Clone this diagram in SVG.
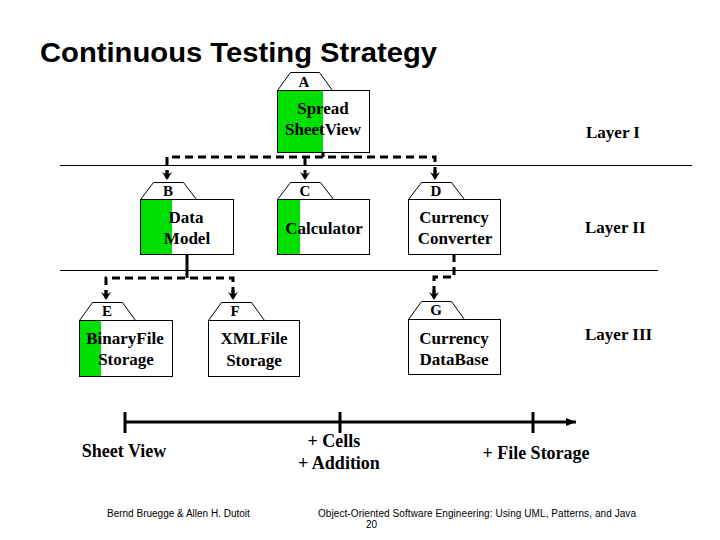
<svg xmlns="http://www.w3.org/2000/svg" width="720" height="540" viewBox="0 0 720 540">
<defs>
<style>
.box{fill:#fff;stroke:#000;stroke-width:1}
.tab{fill:#fff;stroke:#000;stroke-width:1}
.green{fill:#00e000}
.t{font-family:"Liberation Serif","Times New Roman",serif;font-weight:bold;font-size:17px;text-anchor:middle;fill:#000}
.lbl{font-family:"Liberation Serif","Times New Roman",serif;font-weight:bold;font-size:15px;text-anchor:middle;fill:#000}
.layer{font-family:"Liberation Serif","Times New Roman",serif;font-weight:bold;font-size:17px;fill:#000}
.tl{font-family:"Liberation Serif","Times New Roman",serif;font-weight:bold;font-size:18px;text-anchor:middle;fill:#000}
.foot{font-family:"Liberation Sans",Arial,sans-serif;font-size:10px;fill:#000}
.dash{fill:none;stroke:#000;stroke-width:3;stroke-dasharray:8 5}
.solid{fill:none;stroke:#000;stroke-width:3}
.sep{stroke:#000;stroke-width:1}
</style>
<marker id="arr" viewBox="0 0 10 10" refX="5" refY="9" markerWidth="10" markerHeight="10" markerUnits="userSpaceOnUse" orient="0">
<path d="M0,2 L5,5 L10,2 L5,10 Z" fill="#000"/>
</marker>
<marker id="tarr" viewBox="0 0 10 10" refX="10" refY="5" markerWidth="10" markerHeight="10" markerUnits="userSpaceOnUse" orient="auto">
<path d="M0,1 L10,5 L0,9 Z" fill="#000"/>
</marker>
</defs>
<rect width="720" height="540" fill="#fff"/>
<text x="40" y="62" font-family="'Liberation Sans',Arial,sans-serif" font-weight="bold" font-size="28" textLength="397" lengthAdjust="spacingAndGlyphs">Continuous Testing Strategy</text>

<g id="layers">
<line class="sep" x1="60" y1="165.5" x2="692" y2="165.5"/>
<line class="sep" x1="60" y1="270.5" x2="658" y2="270.5"/>
<text class="layer" x="586" y="138">Layer I</text>
<text class="layer" x="585" y="233">Layer II</text>
<text class="layer" x="585" y="340">Layer III</text>
</g>

<g id="connectors">
<line class="solid" x1="323" y1="152" x2="323" y2="157"/>
<polyline class="dash" points="167,178 167,157 435,157 435,178"/>
<line class="dash" x1="167" y1="170" x2="167" y2="179" marker-end="url(#arr)"/>
<line class="dash" x1="305" y1="157" x2="305" y2="179" marker-end="url(#arr)"/>
<line class="dash" x1="435" y1="170" x2="435" y2="179" marker-end="url(#arr)"/>
<line class="solid" x1="187" y1="254" x2="187" y2="278"/>
<polyline class="dash" points="106,298 106,278 233,278 233,298"/>
<line class="dash" x1="106" y1="290" x2="106" y2="299" marker-end="url(#arr)"/>
<line class="dash" x1="233" y1="290" x2="233" y2="299" marker-end="url(#arr)"/>
<polyline class="dash" points="454,254 454,277 434,277 434,298"/>
<line class="dash" x1="434" y1="290" x2="434" y2="299" marker-end="url(#arr)"/>
</g>

<g id="nodeA">
<path class="tab" d="M277.5,90.5 L290.5,72.5 L319.5,72.5 L332.5,90.5 Z"/>
<rect class="box" x="277.5" y="90.5" width="92" height="62"/>
<rect class="green" x="278" y="91" width="45" height="61"/>
<text class="lbl" x="304" y="87">A</text>
<text class="t" x="323" y="114">Spread</text>
<text class="t" x="323" y="135">SheetView</text>
</g>

<g id="nodeB">
<path class="tab" d="M140.5,199.5 L153.5,182.5 L183.5,182.5 L196.5,199.5 Z"/>
<rect class="box" x="140.5" y="199.5" width="93" height="55"/>
<rect class="green" x="141" y="200" width="31" height="54"/>
<text class="lbl" x="168" y="196">B</text>
<text class="t" x="186" y="223">Data</text>
<text class="t" x="187" y="244">Model</text>
</g>

<g id="nodeC">
<path class="tab" d="M277.5,199.5 L290.5,182.5 L320.5,182.5 L333.5,199.5 Z"/>
<rect class="box" x="277.5" y="199.5" width="92" height="55"/>
<rect class="green" x="278" y="200" width="22" height="54"/>
<text class="lbl" x="305" y="196">C</text>
<text class="t" x="324" y="234">Calculator</text>
</g>

<g id="nodeD">
<path class="tab" d="M408.5,199.5 L421.5,182.5 L451.5,182.5 L464.5,199.5 Z"/>
<rect class="box" x="408.5" y="199.5" width="92" height="55"/>
<text class="lbl" x="436" y="196">D</text>
<text class="t" x="454" y="223">Currency</text>
<text class="t" x="455" y="244">Converter</text>
</g>

<g id="nodeE">
<path class="tab" d="M79.5,320.5 L92.5,302.5 L122.5,302.5 L135.5,320.5 Z"/>
<rect class="box" x="79.5" y="320.5" width="93" height="56"/>
<rect class="green" x="80" y="321" width="21" height="55"/>
<text class="lbl" x="107" y="316">E</text>
<text class="t" x="125" y="344">BinaryFile</text>
<text class="t" x="126" y="365">Storage</text>
</g>

<g id="nodeF">
<path class="tab" d="M208.5,320.5 L221.5,302.5 L251.5,302.5 L264.5,320.5 Z"/>
<rect class="box" x="208.5" y="320.5" width="91" height="56"/>
<text class="lbl" x="235" y="316">F</text>
<text class="t" x="254" y="344">XMLFile</text>
<text class="t" x="254" y="366">Storage</text>
</g>

<g id="nodeG">
<path class="tab" d="M408.5,319.5 L421.5,301.5 L451.5,301.5 L464.5,319.5 Z"/>
<rect class="box" x="408.5" y="319.5" width="92" height="55"/>
<text class="lbl" x="436" y="315">G</text>
<text class="t" x="454" y="344">Currency</text>
<text class="t" x="454" y="365">DataBase</text>
</g>

<g id="timeline">
<line x1="125" y1="422" x2="576" y2="422" stroke="#000" stroke-width="3" marker-end="url(#tarr)"/>
<line x1="125" y1="412" x2="125" y2="433" stroke="#000" stroke-width="3"/>
<line x1="340" y1="412" x2="340" y2="433" stroke="#000" stroke-width="3"/>
<line x1="533" y1="412" x2="533" y2="433" stroke="#000" stroke-width="3"/>
<text class="tl" x="124" y="457">Sheet View</text>
<text class="tl" x="334" y="447">+ Cells</text>
<text class="tl" x="339" y="469">+ Addition</text>
<text class="tl" x="536" y="459">+ File Storage</text>
</g>

<g id="footer">
<text class="foot" x="107" y="517">Bernd Bruegge &amp; Allen H. Dutoit</text>
<text class="foot" x="318" y="517" textLength="318" lengthAdjust="spacing">Object-Oriented Software Engineering: Using UML, Patterns, and Java</text>
<text class="foot" x="366" y="528">20</text>
</g>
</svg>
